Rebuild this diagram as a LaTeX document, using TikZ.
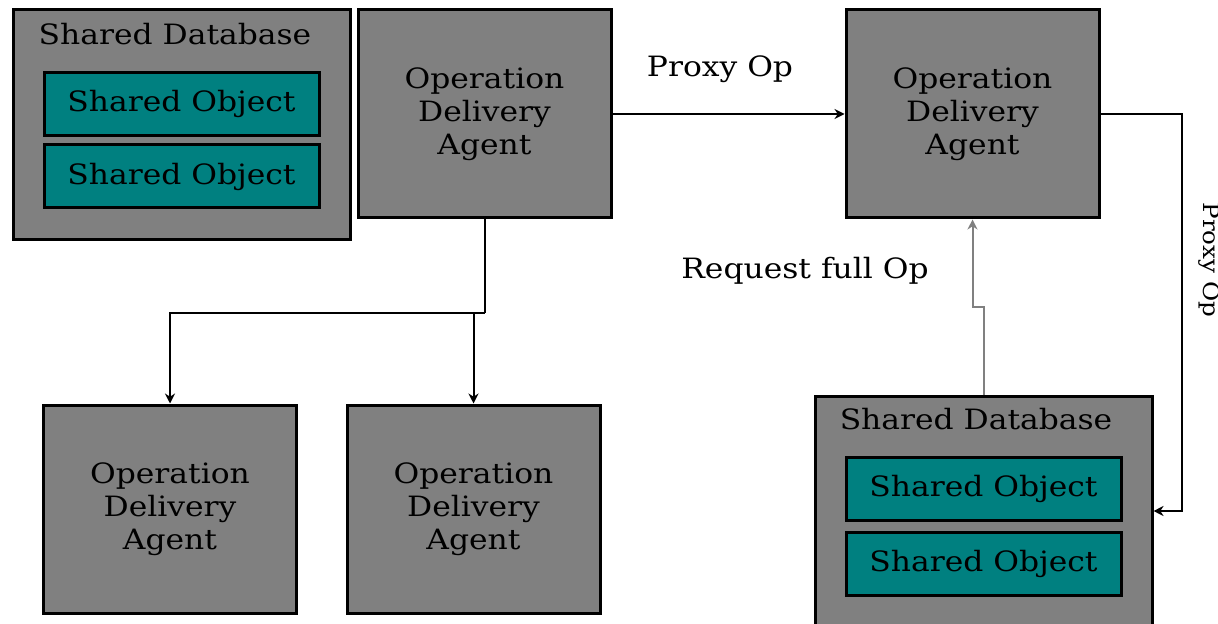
\documentclass[tikz,border=0pt]{standalone}
\usepackage{fontspec}
\setmainfont{DejaVu Serif}
\newfontfamily\wideserif[FakeStretch=1.12]{DejaVu Serif}
\usetikzlibrary{arrows.meta}
\definecolor{boxgray}{HTML}{808080}
\definecolor{objteal}{HTML}{008080}
\tikzset{
  box/.style={draw=black, line width=1.5pt, fill=boxgray, inner sep=0pt},
  agent/.style={box, minimum width=126.5pt, minimum height=104pt, align=center,
    font=\wideserif\fontsize{14}{16.5}\selectfont},
  database/.style={box, minimum width=168.5pt, minimum height=115pt},
  sobj/.style={draw=black, line width=1.5pt, fill=objteal, inner sep=0pt,
    minimum width=137.5pt, minimum height=31.5pt, font=\wideserif\fontsize{14}{16}\selectfont},
  title/.style={font=\wideserif\fontsize{14}{16}\selectfont, inner sep=0pt},
  tag/.style={font=\wideserif\fontsize{14}{16}\selectfont, inner sep=0pt},
  link/.style={line width=1pt, -{Stealth[length=5pt,width=5pt]}},
  graylink/.style={link, draw=boxgray},
}
\begin{document}
\begin{tikzpicture}[x=0.5pt,y=-0.5pt]
\useasboundingbox (0,0) rectangle (1218,624);

% left database with its two objects
\node[database] (db1) at (181.5,125) {};
\node[title] (db1t) at (175,34) {Shared Database};
\node[sobj] (o1) at (181.5,104) {Shared Object};
\node[sobj] (o2) at (181.5,176.5) {Shared Object};

% delivery agents
\node[agent] (a1) at (484.5,114) {Operation\\Delivery\\Agent};
\node[agent] (a2) at (972.5,114) {Operation\\Delivery\\Agent};
\node[agent] (a3) at (170,509) {Operation\\Delivery\\Agent};
\node[agent] (a4) at (473.5,509) {Operation\\Delivery\\Agent};

% right database with its two objects
\node[database] (db2) at (983.5,511) {};
\node[title] (db2t) at (976,419) {Shared Database};
\node[sobj] (o3) at (983.5,489) {Shared Object};
\node[sobj] (o4) at (983.5,564) {Shared Object};

% proxy operation between agents
\draw[link] (a1.east) -- (a2.west);
\node[tag] (proxy) at (720,69) {Proxy Op};

% fan-out to the lower agents
\coordinate (fork) at (484.5,313);
\draw[line width=1pt] (a1.south) -- (fork);
\draw[link] (fork) -| (a3.north);
\draw[link] (fork) -| (a4.north);

% proxy forwarded to the right database
\coordinate (rside) at (1182,0);
\draw[link] (a2.east) -- (a2.east -| rside) |- (db2.east);
\node[font=\wideserif\fontsize{11}{12}\selectfont, inner sep=0pt, rotate=-90, anchor=base]
  (proxy2) at (1203,260) {Proxy Op};

% request for the full operation
\draw[graylink] (db2.north) -- ++(0,-87) -| (a2.south);
\node[tag] (req) at (805,271) {Request full Op};
\end{tikzpicture}
\end{document}
